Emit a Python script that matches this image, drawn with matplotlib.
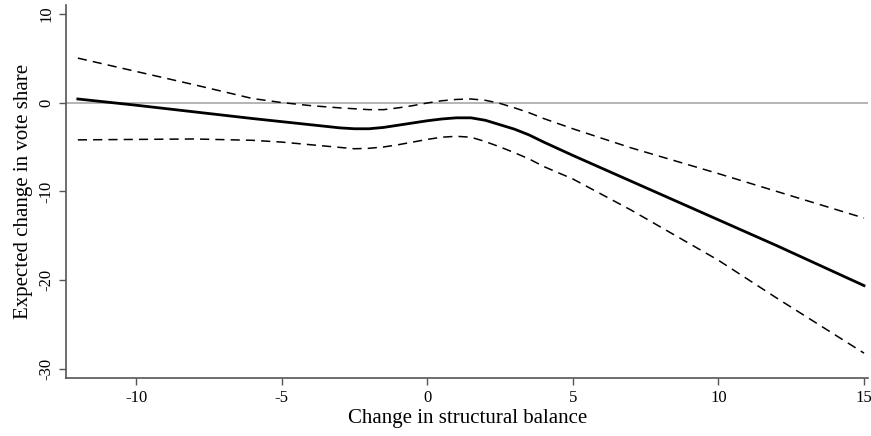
import numpy as np
import matplotlib.pyplot as plt

# values
x = [-12, -10, -8, -6, -5, -4, -3, -2.5, -2, -1.5, -1, -0.5, 0, 0.5, 1, 1.5, 2, 2.5, 3, 3.5, 4, 5, 7, 10, 12, 15]
est = [0.4, -0.3, -1.05, -1.8, -2.15, -2.5, -2.85, -2.95, -2.95, -2.8, -2.55, -2.3, -2.05, -1.85, -1.72, -1.72,
       -2.0, -2.5, -3.0, -3.65, -4.45, -5.95, -8.85, -13.2, -16.1, -20.6]
upper = [5.0, 3.5, 2.0, 0.45, 0.0, -0.35, -0.6, -0.7, -0.8, -0.8, -0.6, -0.35, -0.05, 0.2, 0.35, 0.4,
         0.25, -0.1, -0.6, -1.15, -1.8, -2.95, -5.1, -8.0, -10.0, -13.0]
lower = [-4.2, -4.15, -4.1, -4.25, -4.45, -4.75, -5.05, -5.2, -5.15, -5.0, -4.75, -4.45, -4.15, -3.9, -3.8, -3.9,
         -4.4, -5.0, -5.65, -6.35, -7.2, -8.6, -12.1, -17.75, -22.0, -28.2]

xticks = [-10, -5, 0, 5, 10, 15]
yticks = [-30, -20, -10, 0, 10]

plt.rcParams['font.family'] = ['Liberation Serif', 'DejaVu Serif']
plt.rcParams['axes.unicode_minus'] = False

fig = plt.figure(figsize=(8.71, 4.36), dpi=100)
ax = fig.add_axes([0.076, 0.133, 0.921, 0.856])

ax.axhline(0, color='#b4b4b4', lw=1.4, zorder=1)
ax.plot(x, est, color='black', lw=2, solid_joinstyle='round')
ax.plot(x, upper, color='black', lw=1.1, dashes=(6, 4))
ax.plot(x, lower, color='black', lw=1.1, dashes=(6, 4))

ax.set_xlim(-12.4, 15.15)
ax.set_ylim(-31, 11)
ax.set_xticks(xticks)
ax.set_yticks(yticks)
ax.set_yticklabels([str(t) for t in yticks], rotation=90, va='center')

for s in ['top', 'right']:
    ax.spines[s].set_visible(False)
for s in ['left', 'bottom']:
    ax.spines[s].set_color('#555555')
    ax.spines[s].set_linewidth(1.2)
ax.tick_params(colors='#555555', labelcolor='black', labelsize=12, length=5, width=1)

ax.set_xlabel('Change in structural balance', fontsize=15, labelpad=2)
ax.set_ylabel('Expected change in vote share', fontsize=15, labelpad=4)

fig.savefig('out.png', dpi=100)
